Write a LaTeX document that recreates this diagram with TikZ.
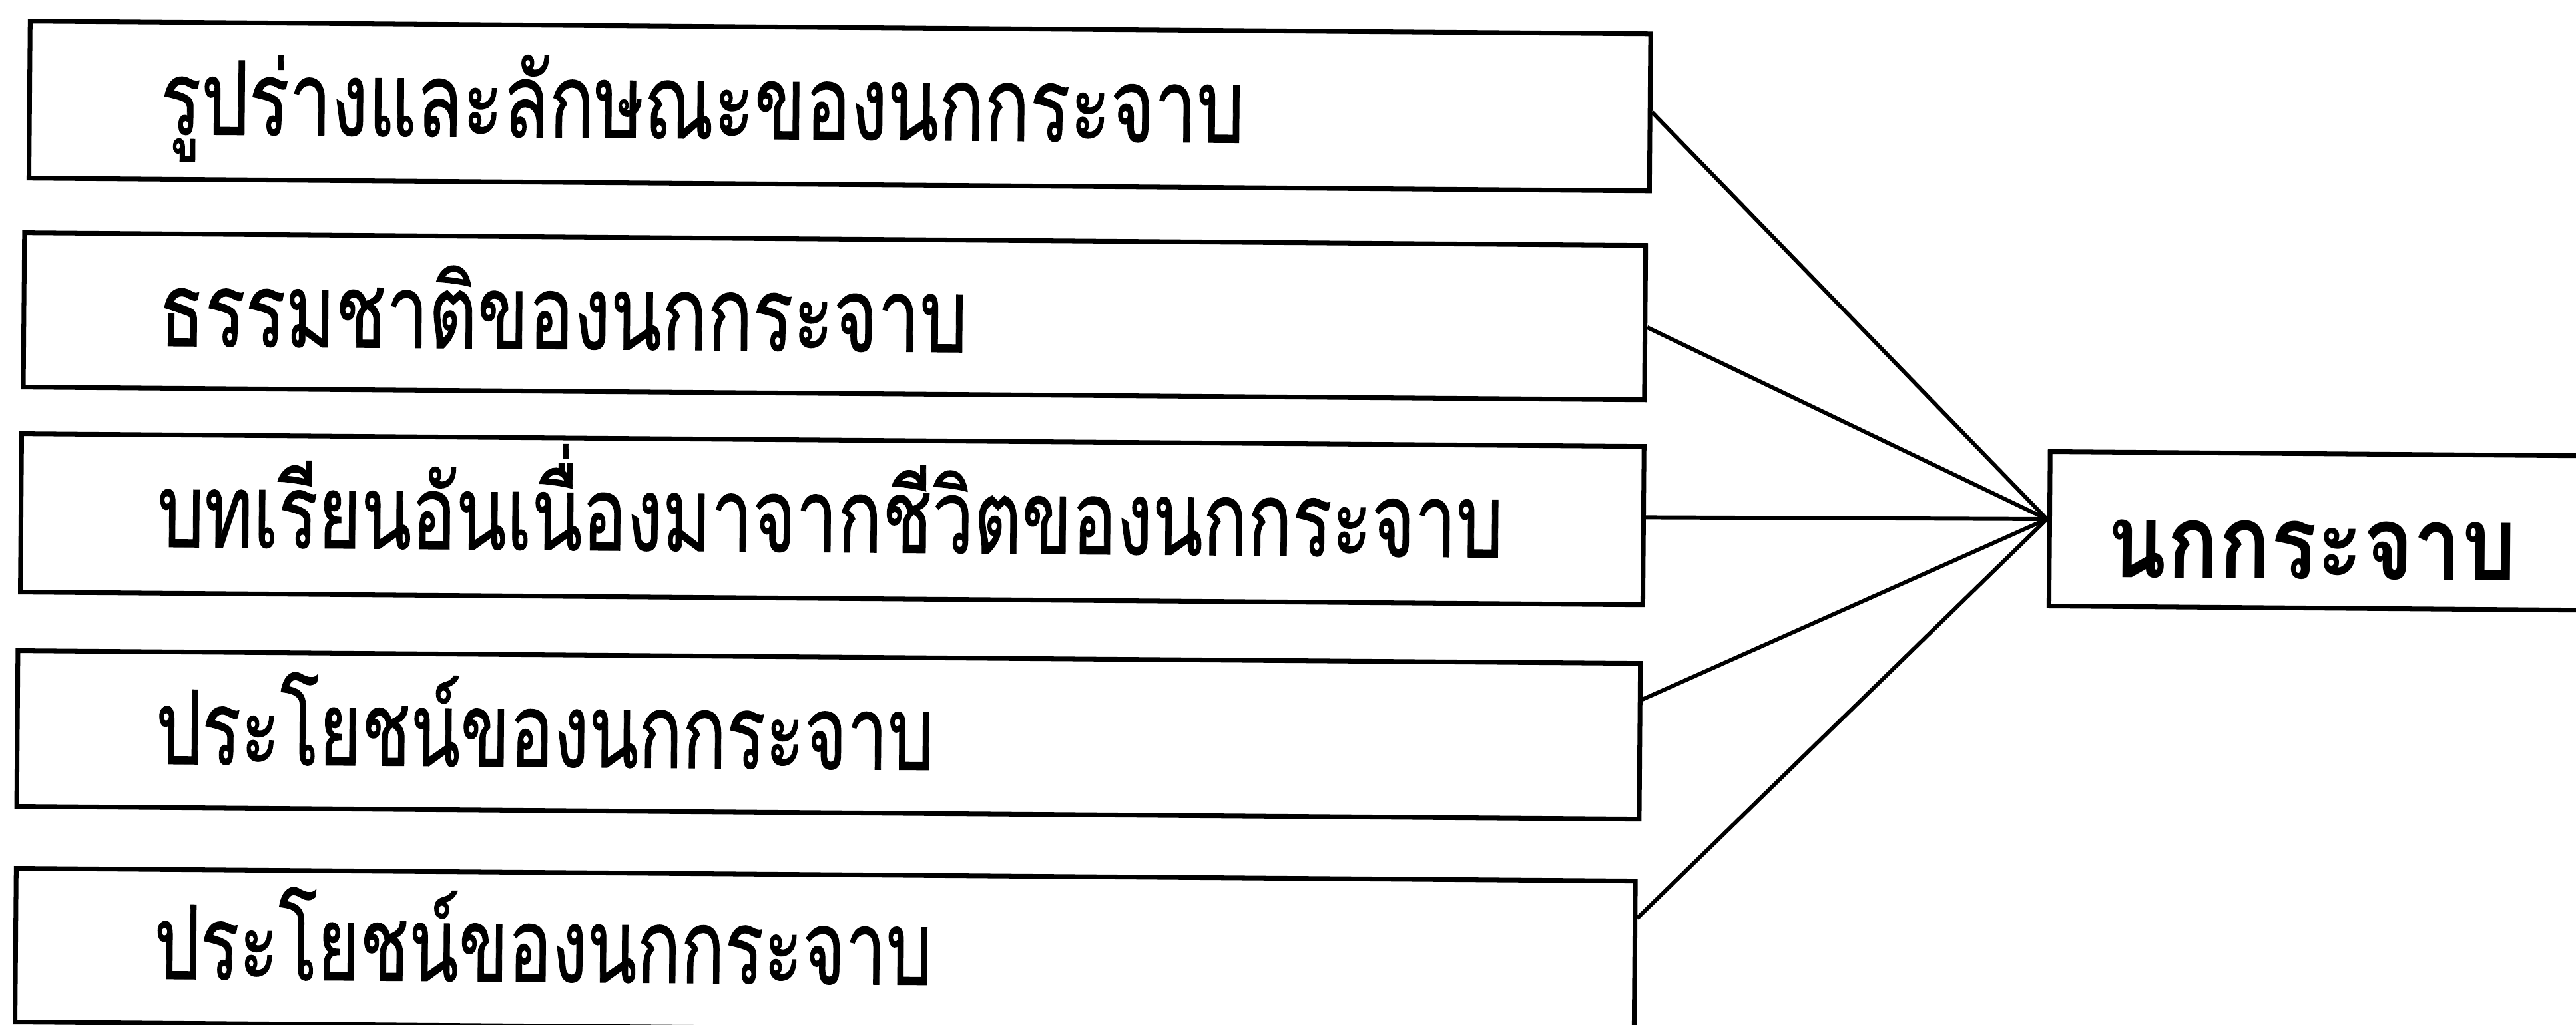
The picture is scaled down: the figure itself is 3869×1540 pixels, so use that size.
\documentclass[tikz,border=0pt]{standalone}
\usepackage{fontspec}
\newfontfamily\thaifont[Script=Thai,FakeBold=0.8]{Loma}
\newfontfamily\thaibold[Script=Thai]{Loma Bold}
\usetikzlibrary{calc}
\newcommand{\narrowtext}[2]{\scalebox{#1}[1]{#2}}
\begin{document}
\begin{tikzpicture}[x=0.1mm,y=-0.1mm,
  itembox/.style={draw, line width=2pt, inner sep=0pt, anchor=north west},
  itemtext/.style={anchor=base west, inner sep=0pt, font=\thaifont\fontsize{44}{50}\selectfont},
  headtext/.style={anchor=base west, inner sep=0pt, font=\thaibold\fontsize{44}{50}\selectfont},
  link/.style={line width=1.7pt}]
\useasboundingbox (0,0) rectangle (3869,1540);
\clip (0,0) rectangle (3869,1540);
\fill[white] (0,0) rectangle (3869,1540);
\begin{scope}[rotate around={-0.45:(1934,770)}, transform shape]
\node[itembox, minimum width=243.4mm, minimum height=23.6mm] (b1) at (36,43) {};
\node[itembox, minimum width=243.5mm, minimum height=23.2mm] (b2) at (30,361) {};
\node[itembox, minimum width=243.7mm, minimum height=23.8mm] (b3) at (28,663) {};
\node[itembox, minimum width=243.7mm, minimum height=23.4mm] (b4) at (25,989) {};
\node[itembox, minimum width=243.2mm, minimum height=23.1mm] (b5) at (25,1316) {};
\node[itembox, minimum width=90mm, minimum height=23.2mm] (rb) at (3075,666) {};

\node[itemtext] (t1) at (236,215) {\narrowtext{0.73}{รูปร่างและลักษณะของนกกระจาบ}};
\node[itemtext] (t2) at (236,533) {\narrowtext{0.73}{ธรรมชาติของนกกระจาบ}};
\node[itemtext] (t3) at (236,835) {\narrowtext{0.717}{บทเรียนอันเนื่องมาจากชีวิตของนกกระจาบ}};
\node[itemtext] (t4) at (236,1161) {\narrowtext{0.705}{ประโยชน์ของนกกระจาบ}};
\node[itemtext, text depth=0pt] (t5) at (236,1484) {\narrowtext{0.705}{ประโยชน์ของนกกระจาบ}};
\node[headtext] (th) at (3166,858) {\narrowtext{0.835}{นกกระจาบ}};

\coordinate (hub) at ($(rb.north west)!0.44!(rb.south west)$);
\draw[link] (b1.east) -- (hub);
\draw[link] ($(b2.north east)!0.53!(b2.south east)$) -- (hub);
\draw[link] ($(b3.north east)!0.45!(b3.south east)$) -- (hub);
\draw[link] ($(b4.north east)!0.24!(b4.south east)$) -- (hub);
\draw[link] ($(b5.north east)!0.25!(b5.south east)$) -- (hub);
\end{scope}
\end{tikzpicture}
\end{document}
